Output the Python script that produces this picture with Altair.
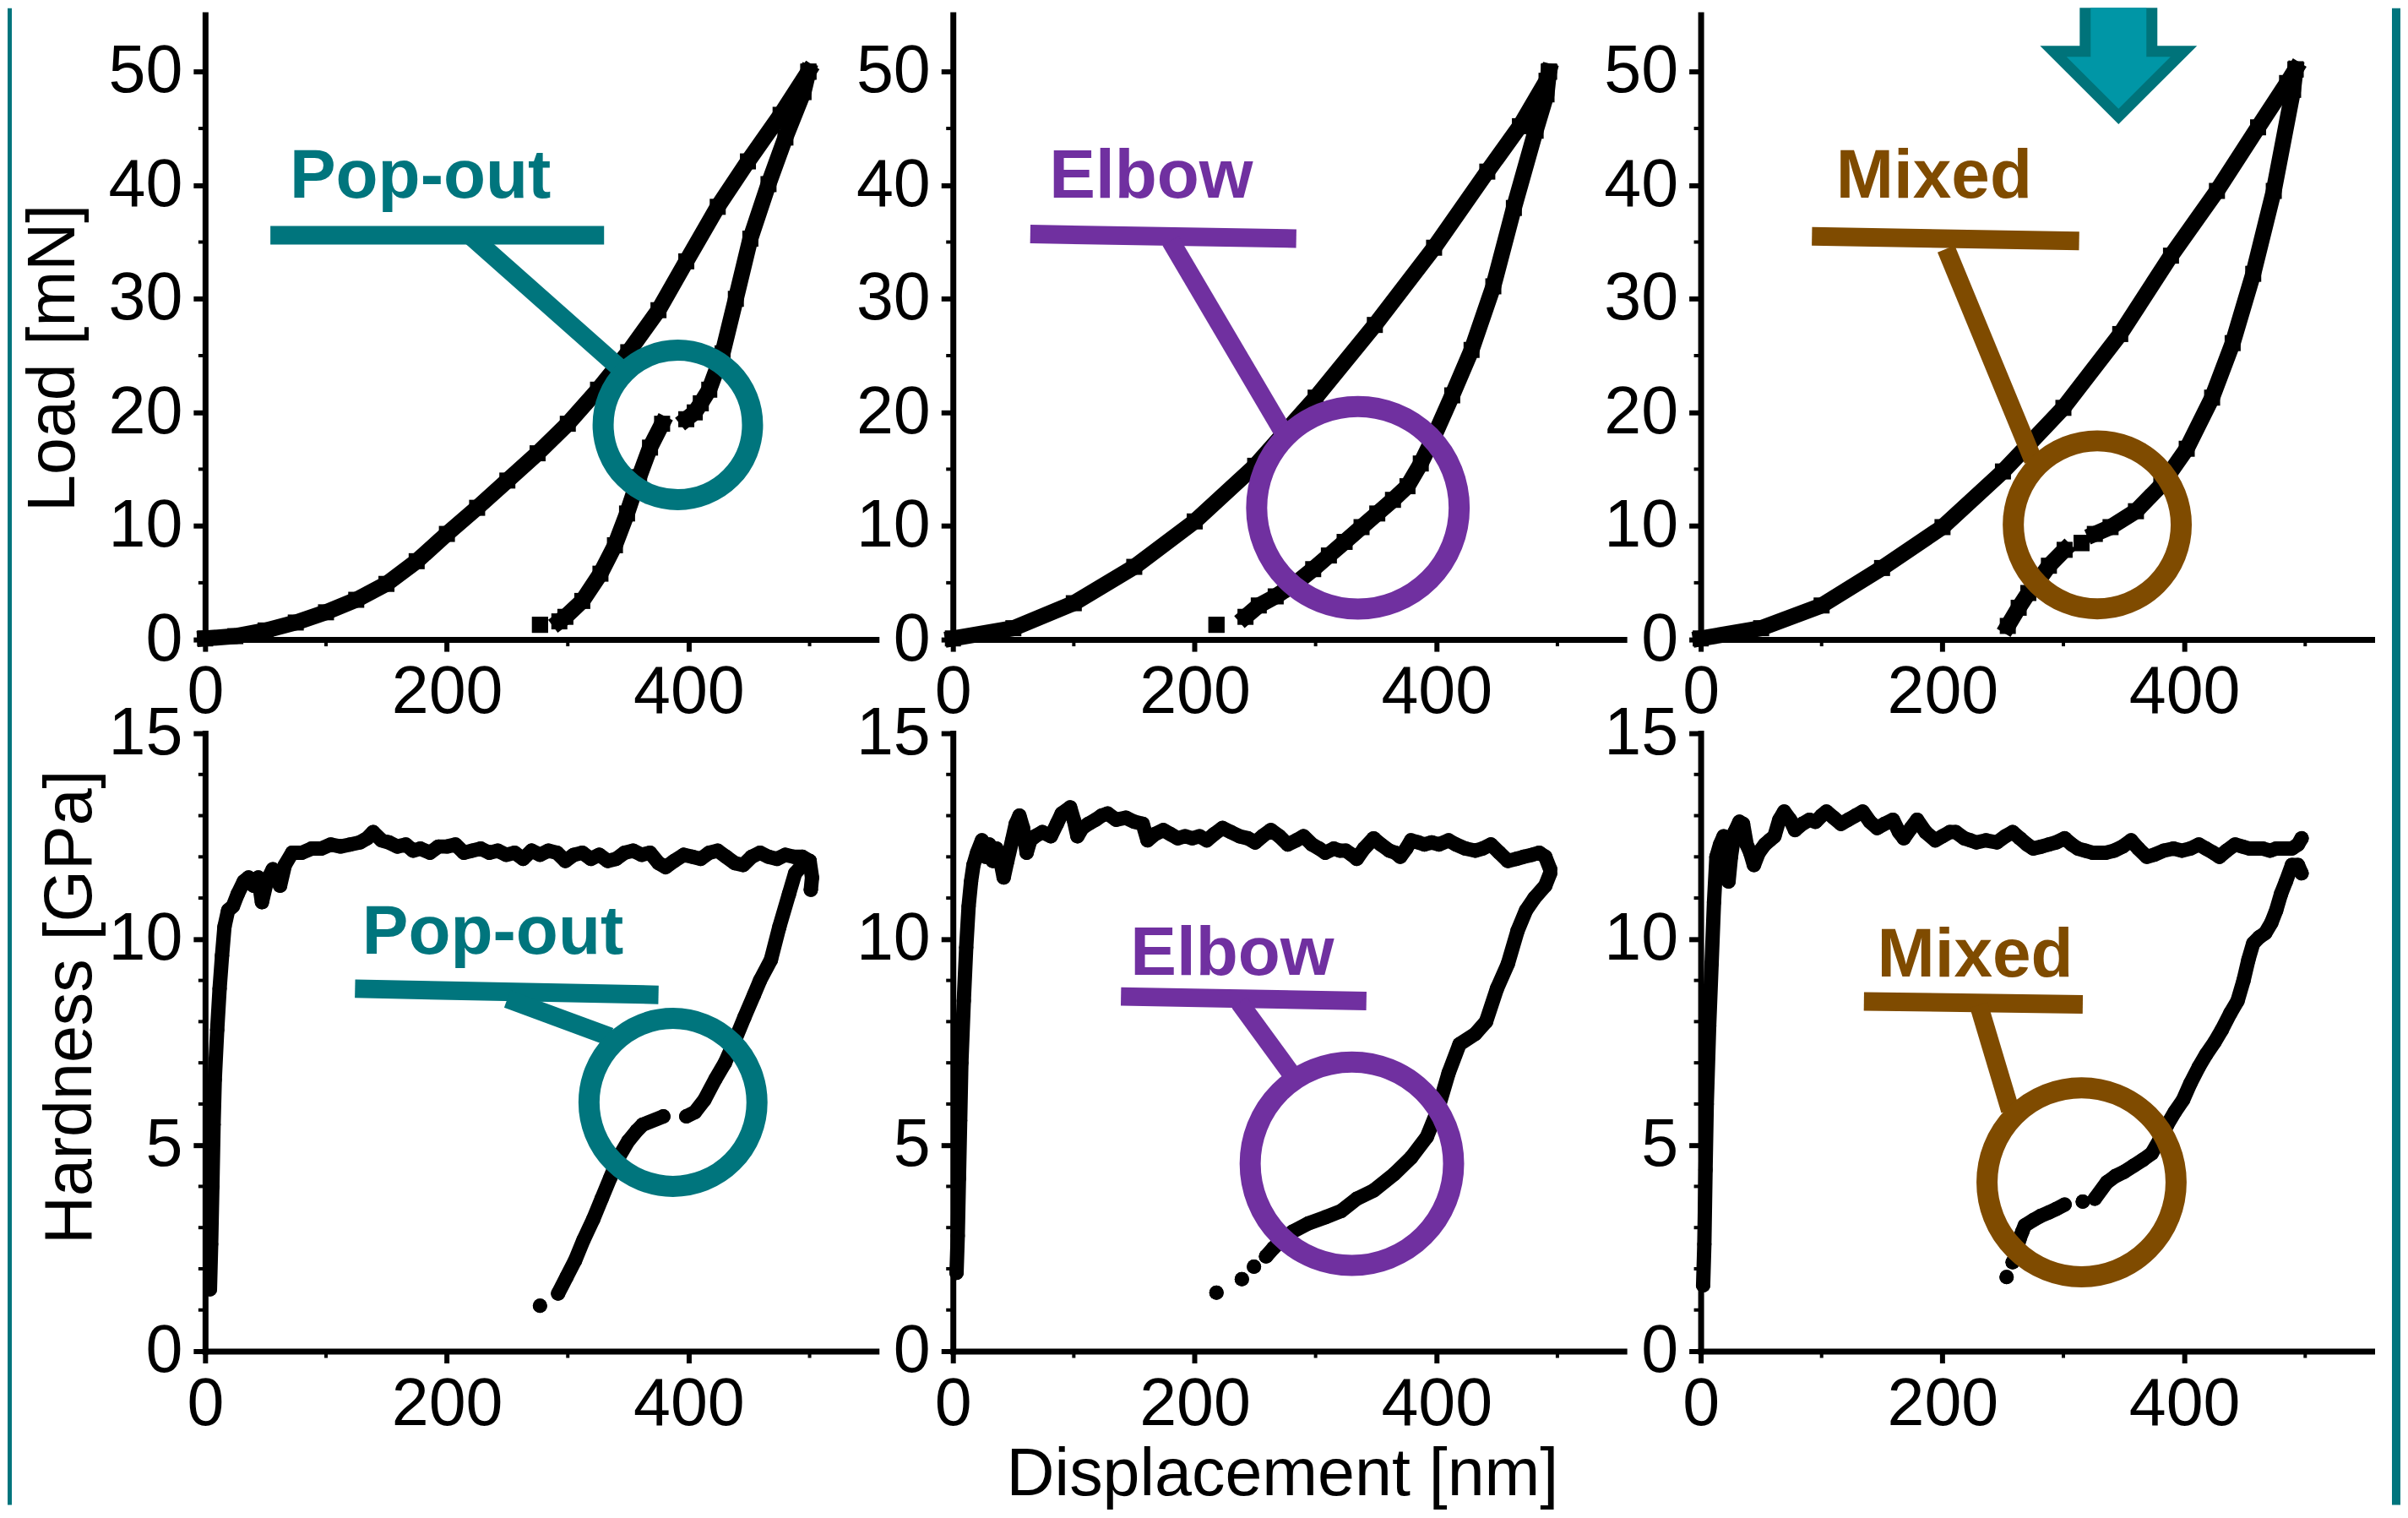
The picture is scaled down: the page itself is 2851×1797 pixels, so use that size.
import altair as alt
import pandas as pd

FONT = "Liberation Sans"
C_POP = "#00757D"
C_ELB = "#7030A0"
C_MIX = "#7F4B00"
FRAME = "#00757D"
ARROW_EDGE = "#00737A"
ARROW_FILL = "#0096A6"

# ---------------- data (displacement nm, load mN / hardness GPa) ----------------
TL_LOAD = [(0, 0.1), (25, 0.3), (50, 0.8), (75, 1.5), (100, 2.4), (125, 3.5), (150, 4.9), (175, 6.9),
           (200, 9.3), (225, 11.6), (250, 14.0), (275, 16.4), (300, 19.0), (325, 22.0), (350, 25.3),
           (375, 29.0), (398, 33.3), (424, 38.1), (449, 42.1), (476, 46.2), (499, 50.0)]
TL_UNLOAD_A = [(499, 50.0), (495, 48.2), (480, 44.2), (466, 40.1), (451, 35.3), (439, 30.0), (428, 25.2),
               (417, 22.0), (410, 20.8), (405, 20.0), (398, 19.4)]
TL_UNLOAD_B = [(378, 19.0), (368, 16.9), (359, 14.3), (349, 11.1), (339, 8.3), (327, 5.8), (312, 3.4),
               (298, 2.0), (293, 1.6)]
TL_END = [(277, 1.3)]

TM_LOAD = [(0, 0.1), (50, 1.0), (100, 3.2), (150, 6.4), (200, 10.4), (250, 15.3), (300, 21.3), (349, 27.7),
           (398, 34.5), (442, 41.2), (469, 45.2), (491, 49.2), (493, 50.0)]
TM_UNLOAD = [(493, 50.0), (491, 48.0), (482, 44.8), (464, 38.0), (447, 31.1), (429, 25.5), (413, 21.5),
             (398, 17.9), (387, 15.5), (376, 13.5), (364, 12.3), (351, 11.1), (338, 9.9), (324, 8.6),
             (311, 7.4), (298, 6.2), (284, 5.0), (267, 3.8), (253, 3.0), (242, 2.0)]
TM_END = [(218, 1.3)]

TR_LOAD = [(0, 0.1), (50, 1.0), (100, 3.0), (150, 6.3), (200, 9.9), (250, 14.8), (300, 20.4), (347, 26.9),
           (389, 33.8), (427, 39.5), (461, 45.1), (485, 49.0), (492, 50.2)]
TR_UNLOAD_A = [(492, 50.2), (490, 48.4), (474, 39.5), (457, 32.2), (440, 26.1), (423, 21.3), (402, 16.8),
               (381, 13.6), (360, 11.3), (339, 9.9), (326, 9.3)]
TR_MID = [(315, 8.5)]
TR_UNLOAD_B = [(301, 7.9), (288, 6.5), (280, 5.3), (271, 4.1), (263, 2.8), (254, 1.2)]

BL_LOAD = [(4, 1.5), (5, 2.6), (6, 4.0), (7, 5.5), (8, 6.6), (10, 7.8), (12, 8.8), (14, 9.6), (16, 10.3),
           (19, 10.7), (23, 10.8), (27, 11.1), (32, 11.4), (36, 11.5), (40, 11.3), (44, 11.5), (47, 10.9),
           (51, 11.4), (56, 11.7), (62, 11.3), (66, 11.8), (72, 12.1), (80, 12.1), (88, 12.2), (96, 12.2),
           (104, 12.3), (112, 12.25), (120, 12.3), (128, 12.35), (134, 12.45), (139, 12.6), (146, 12.4),
           (152, 12.35), (159, 12.25), (166, 12.3), (172, 12.15), (178, 12.2), (186, 12.1), (193, 12.25),
           (200, 12.25), (207, 12.3), (214, 12.1), (221, 12.15), (228, 12.2), (235, 12.1), (242, 12.15),
           (249, 12.05), (256, 12.1), (263, 11.95), (270, 12.15), (277, 12.05), (284, 12.15), (291, 12.1),
           (298, 11.9), (305, 12.05), (312, 12.1), (319, 11.95), (326, 12.05), (333, 11.9), (340, 11.95),
           (347, 12.1), (354, 12.15), (361, 12.05), (368, 12.1), (375, 11.85), (381, 11.75), (388, 11.9),
           (396, 12.05), (403, 12.0), (410, 11.95), (417, 12.1), (424, 12.15), (431, 12.0), (438, 11.85),
           (445, 11.8), (452, 12.0), (459, 12.1), (466, 12.0), (473, 11.95), (480, 12.05), (487, 12.0),
           (494, 12.0), (500, 11.9), (502, 11.5), (501, 11.2)]
BL_UNLOAD_A = [(500, 11.9), (494, 11.8), (488, 11.6), (483, 11.1), (475, 10.3), (468, 9.5), (459, 9.0),
               (454, 8.65), (446, 8.1), (439, 7.6), (430, 7.0), (422, 6.6), (413, 6.1), (405, 5.8), (398, 5.7)]
BL_UNLOAD_B = [(379, 5.7), (362, 5.5), (357, 5.35), (350, 5.1), (342, 4.7), (335, 4.2), (328, 3.7),
               (321, 3.2), (313, 2.7), (306, 2.2), (299, 1.8), (292, 1.4)]
BL_END = [(277, 1.1)]

BM_LOAD = [(3, 1.9), (4, 2.8), (5, 4.2), (6, 5.6), (7, 7.0), (9, 8.5), (11, 9.8), (13, 10.8), (15, 11.4),
           (17, 11.8), (20, 12.1), (24, 12.4), (27, 12.0), (30, 12.3), (33, 11.9), (36, 12.2), (40, 11.8),
           (42, 11.5), (45, 11.9), (49, 12.4), (52, 12.8), (55, 13.0), (58, 12.7), (61, 12.1), (64, 12.4),
           (68, 12.5), (74, 12.6), (81, 12.5), (86, 12.8), (90, 13.05), (97, 13.2), (100, 12.9), (103, 12.5),
           (107, 12.7), (112, 12.8), (118, 12.9), (123, 13.0), (128, 13.05), (135, 12.9), (143, 12.95),
           (150, 12.85), (157, 12.8), (161, 12.4), (167, 12.55), (174, 12.65), (180, 12.55), (186, 12.45),
           (192, 12.5), (198, 12.45), (204, 12.5), (210, 12.4), (216, 12.55), (223, 12.7), (230, 12.6),
           (237, 12.5), (244, 12.45), (250, 12.35), (256, 12.5), (263, 12.65), (270, 12.5), (277, 12.3),
           (284, 12.4), (290, 12.5), (297, 12.3), (303, 12.2), (308, 12.1), (315, 12.2), (320, 12.15),
           (325, 12.15), (330, 12.05), (334, 11.95), (340, 12.2), (348, 12.45), (354, 12.3), (361, 12.15),
           (366, 12.1), (370, 12.0), (375, 12.2), (379, 12.4), (385, 12.35), (390, 12.3), (396, 12.35),
           (402, 12.3), (410, 12.4), (416, 12.3), (424, 12.2), (432, 12.15), (438, 12.2), (445, 12.3),
           (452, 12.1), (459, 11.9), (466, 11.95), (472, 12.0), (479, 12.05), (485, 12.1), (490, 12.0),
           (494, 11.7)]
BM_UNLOAD = [(494, 11.6), (490, 11.3), (481, 11.0), (474, 10.7), (467, 10.2), (459, 9.4), (450, 8.8),
             (441, 8.0), (432, 7.7), (419, 7.45), (410, 6.75), (401, 5.85), (392, 5.2), (379, 4.7),
             (365, 4.3), (348, 3.9), (334, 3.7), (321, 3.4), (308, 3.25), (294, 3.1), (281, 2.9),
             (272, 2.7), (265, 2.5), (259, 2.3)]
BM_DOTS = [(249, 2.05), (239, 1.75), (218, 1.42)]

BR_LOAD = [(2, 1.6), (3, 2.6), (4, 4.4), (5, 6.0), (7, 7.9), (9, 9.4), (11, 10.9), (13, 12.0), (16, 12.3),
           (19, 12.5), (21, 11.9), (23, 11.4), (25, 12.0), (28, 12.6), (32, 12.85), (35, 12.8), (38, 12.3),
           (41, 12.1), (44, 11.8), (48, 12.1), (53, 12.3), (57, 12.4), (61, 12.5), (65, 12.9), (69, 13.1),
           (74, 12.9), (78, 12.65), (84, 12.8), (90, 12.9), (95, 12.85), (100, 13.0), (104, 13.1),
           (110, 12.95), (116, 12.8), (122, 12.9), (128, 13.0), (134, 13.1), (140, 12.85), (146, 12.7),
           (152, 12.8), (159, 12.9), (164, 12.6), (168, 12.45), (174, 12.7), (179, 12.9), (186, 12.6),
           (194, 12.4), (200, 12.5), (206, 12.6), (211, 12.6), (218, 12.45), (223, 12.4), (228, 12.35),
           (236, 12.4), (245, 12.35), (252, 12.5), (258, 12.6), (264, 12.45), (270, 12.3), (275, 12.2),
           (282, 12.25), (288, 12.3), (294, 12.35), (301, 12.45), (307, 12.3), (312, 12.2), (318, 12.15),
           (324, 12.1), (330, 12.1), (335, 12.1), (342, 12.15), (349, 12.25), (356, 12.4), (362, 12.2),
           (369, 12.0), (375, 12.05), (383, 12.15), (391, 12.2), (398, 12.15), (405, 12.2), (412, 12.3),
           (418, 12.2), (424, 12.1), (429, 12.0), (435, 12.15), (442, 12.3), (448, 12.25), (454, 12.2),
           (459, 12.2), (465, 12.2), (471, 12.15), (476, 12.2), (482, 12.2), (489, 12.2), (494, 12.3),
           (497, 12.45)]
BR_UNLOAD_A = [(497, 11.6), (494, 11.8), (489, 11.8), (484, 11.4), (480, 11.1), (476, 10.7), (472, 10.4),
               (467, 10.15), (462, 10.05), (457, 9.9), (453, 9.5), (449, 9.0), (444, 8.5), (438, 8.2),
               (431, 7.8), (425, 7.5), (418, 7.2), (412, 6.9), (405, 6.5), (399, 6.1), (392, 5.8),
               (386, 5.5), (379, 5.1), (373, 4.8), (366, 4.65), (358, 4.5), (350, 4.35), (343, 4.25),
               (336, 4.1), (326, 3.7)]
BR_MID = [(316, 3.63)]
BR_UNLOAD_B = [(301, 3.56), (294, 3.45), (288, 3.37), (281, 3.28), (275, 3.18), (268, 3.05), (266, 2.9),
               (264, 2.75), (262, 2.54)]
BR_DOTS = [(258, 2.16), (253, 1.8)]

# ---------------- axes ticks ----------------
X_DOMAIN = [0, 555]
X_MAJOR = [0, 200, 400]
X_MINOR = [100, 300, 500]
LOAD_DOMAIN = [0, 55]
LOAD_MAJOR = [0, 10, 20, 30, 40, 50]
LOAD_MINOR = [5, 15, 25, 35, 45]
HARD_DOMAIN = [0, 15]
HARD_MAJOR = [0, 5, 10, 15]
HARD_MINOR = [1, 2, 3, 4, 6, 7, 8, 9, 11, 12, 13, 14]

# ---------------- annotations (data coordinates of each panel) ----------------
ANN_LABEL = ["Pop-out", "Elbow", "Mixed", "Pop-out", "Elbow", "Mixed"]
ANN_COLOR = [C_POP, C_ELB, C_MIX, C_POP, C_ELB, C_MIX]
ANN_TEXT_X = [178, 164, 193, 238, 231, 227]
ANN_TEXT_Y = [38.9, 38.9, 38.9, 9.64, 9.13, 9.10]
BAR_X1 = [54, 64, 92, 124, 139, 135]
BAR_Y1 = [35.6, 35.7, 35.5, 8.80, 8.61, 8.49]
BAR_X2 = [330, 284, 313, 375, 342, 316]
BAR_Y2 = [35.6, 35.3, 35.1, 8.65, 8.50, 8.42]
LEAD_X1 = [220, 180, 203, 250, 237, 230]
LEAD_Y1 = [35.5, 35.1, 34.4, 8.55, 8.46, 8.40]
LEAD_X2 = [342, 273, 275, 335, 279, 256]
LEAD_Y2 = [24.0, 18.3, 15.8, 7.63, 6.77, 5.85]
RING_X = [391, 335, 328, 387, 330, 315]
RING_Y = [18.9, 11.6, 10.1, 6.04, 4.55, 4.10]
RING_DIAM = [177, 240, 199, 199, 241, 224]   # px, centre line of ring

ARROW_AT = [(345.6, 50.5)]
ARROW_OUTER = "M -0.46 -0.69 L 0.46 -0.69 L 0.46 -0.24 L 0.93 -0.24 L 0 0.69 L -0.93 -0.24 L -0.46 -0.24 Z"
ARROW_INNER = "M -0.33 -0.69 L 0.33 -0.69 L 0.33 -0.11 L 0.616 -0.11 L 0 0.506 L -0.616 -0.11 L -0.33 -0.11 Z"

# ---------------- layout / style ----------------
PANEL_W = 795
TOP_H = 740
BOT_H = 732
COL_GAP = 91
ROW_GAP = 111
TICK_FS = 79
TOP_LINE_W = 19
TOP_MARK = 361
BOT_LINE_W = 17
BOT_MARK = 289
ANN_W = 22
RING_W = 25


def curve_frame(segments):
    rows = []
    k = 0
    for s, seg in enumerate(segments):
        for x, y in seg:
            rows.append({"x": x, "y": y, "s": s, "k": k})
            k += 1
    return pd.DataFrame(rows)


def axis(values, pad, **extra):
    kw = dict(values=values, grid=False, domainColor="black", domainWidth=7, domainCap="square",
              tickColor="black", tickWidth=6, tickSize=14, labelFont=FONT, labelFontSize=TICK_FS,
              labelColor="black", labelFlush=False, labelOverlap=False, labelPadding=pad,
              titleFont=FONT, titleFontSize=TICK_FS, titleFontWeight="normal", titleColor="black")
    kw.update(extra)
    if "title" not in kw:
        kw["title"] = None
    return alt.Axis(**kw)


def panel(i, segments, marker, msize, lw, ydom, h, ymajor, yminor, yextra=None, xextra=None, extra=None):
    xs = alt.Scale(domain=X_DOMAIN, nice=False, zero=False)
    ys = alt.Scale(domain=ydom, nice=False, zero=False)
    X = alt.X("x:Q", scale=xs, axis=axis(X_MAJOR, 10 if h == TOP_H else 11, **(xextra or {})))
    Y = alt.Y("y:Q", scale=ys, axis=axis(ymajor, 13, **(yextra or {})))

    df = curve_frame(segments)
    cap = "square" if marker == "square" else "round"
    line = alt.Chart(df).mark_line(color="black", strokeWidth=lw, strokeJoin="round", strokeCap=cap).encode(
        x=X, y=Y, detail="s:N", order="k:Q")
    pts = alt.Chart(df).mark_point(shape=marker, filled=True, size=msize, opacity=1, color="black").encode(x=X, y=Y)

    ymin = alt.Chart(pd.DataFrame({"y": yminor})).mark_rule(color="black", strokeWidth=4).encode(
        y=Y, x=alt.value(-8), x2=alt.value(0))
    xmin = alt.Chart(pd.DataFrame({"x": X_MINOR})).mark_rule(color="black", strokeWidth=4).encode(
        x=X, y=alt.value(h), y2=alt.value(h + 8))

    c = ANN_COLOR[i]
    txt = alt.Chart(pd.DataFrame({"x": [ANN_TEXT_X[i]], "y": [ANN_TEXT_Y[i]], "t": [ANN_LABEL[i]]})).mark_text(
        font=FONT, fontSize=82, fontWeight="bold", color=c, align="center", baseline="alphabetic").encode(
        x=X, y=Y, text="t:N")
    bar = alt.Chart(pd.DataFrame({"x": [BAR_X1[i]], "y": [BAR_Y1[i]], "x2": [BAR_X2[i]], "y2": [BAR_Y2[i]]})).mark_rule(
        color=c, strokeWidth=ANN_W).encode(x=X, y=Y, x2=alt.X2("x2"), y2=alt.Y2("y2"))
    lead = alt.Chart(pd.DataFrame({"x": [LEAD_X1[i]], "y": [LEAD_Y1[i]], "x2": [LEAD_X2[i]], "y2": [LEAD_Y2[i]]})).mark_rule(
        color=c, strokeWidth=ANN_W).encode(x=X, y=Y, x2=alt.X2("x2"), y2=alt.Y2("y2"))
    ring = alt.Chart(pd.DataFrame({"x": [RING_X[i]], "y": [RING_Y[i]]})).mark_point(
        shape="circle", filled=False, strokeWidth=RING_W, size=RING_DIAM[i] ** 2, opacity=1, color=c).encode(x=X, y=Y)

    layers = [ymin, xmin, line, pts, bar, lead, ring, txt]
    if extra:
        layers += [f(X, Y) for f in extra]
    return alt.layer(*layers).properties(width=PANEL_W, height=h)


def left_frame(X, Y):
    return alt.Chart(pd.DataFrame({"v": [0]})).mark_rect(color=FRAME).encode(
        x=alt.value(-234), x2=alt.value(-229), y=alt.value(-8), y2=alt.value(1765))


def right_frame(X, Y):
    return alt.Chart(pd.DataFrame({"v": [0]})).mark_rect(color=FRAME).encode(
        x=alt.value(819), x2=alt.value(829), y=alt.value(-8), y2=alt.value(1765))


def arrow(X, Y):
    d = pd.DataFrame({"x": [p[0] for p in ARROW_AT], "y": [p[1] for p in ARROW_AT]})
    outer = alt.Chart(d).mark_point(shape=ARROW_OUTER, size=40000, filled=True, opacity=1,
                                    color=ARROW_EDGE, strokeWidth=0).encode(x=X, y=Y)
    inner = alt.Chart(d).mark_point(shape=ARROW_INNER, size=40000, filled=True, opacity=1,
                                    color=ARROW_FILL, strokeWidth=0).encode(x=X, y=Y)
    return alt.layer(outer, inner)


tl = panel(0, [TL_LOAD, TL_UNLOAD_A, TL_UNLOAD_B, TL_END], "square", TOP_MARK, TOP_LINE_W, LOAD_DOMAIN, TOP_H,
           LOAD_MAJOR, LOAD_MINOR,
           yextra=dict(title="Load [mN]", titleX=-138, titleY=406, titleAngle=270,
                       titleBaseline="bottom", titleAlign="center"),
           extra=[left_frame])
tm = panel(1, [TM_LOAD, TM_UNLOAD, TM_END], "square", TOP_MARK, TOP_LINE_W, LOAD_DOMAIN, TOP_H,
           LOAD_MAJOR, LOAD_MINOR)
tr = panel(2, [TR_LOAD, TR_UNLOAD_A, TR_MID, TR_UNLOAD_B], "square", TOP_MARK, TOP_LINE_W, LOAD_DOMAIN, TOP_H,
           LOAD_MAJOR, LOAD_MINOR, extra=[arrow, right_frame])
bl = panel(3, [BL_LOAD, BL_UNLOAD_A, BL_UNLOAD_B, BL_END], "circle", BOT_MARK, BOT_LINE_W, HARD_DOMAIN, BOT_H,
           HARD_MAJOR, HARD_MINOR,
           yextra=dict(title="Hardness [GPa]", titleX=-118, titleY=324, titleAngle=270,
                       titleBaseline="bottom", titleAlign="center"))
bm = panel(4, [BM_LOAD, BM_UNLOAD] + [[p] for p in BM_DOTS], "circle", BOT_MARK, BOT_LINE_W, HARD_DOMAIN, BOT_H,
           HARD_MAJOR, HARD_MINOR,
           xextra=dict(title="Displacement [nm]", titleX=390, titleY=108, titleBaseline="top",
                       titleAlign="center"))
br = panel(5, [BR_LOAD, BR_UNLOAD_A, BR_MID, BR_UNLOAD_B] + [[p] for p in BR_DOTS], "circle", BOT_MARK,
           BOT_LINE_W, HARD_DOMAIN, BOT_H, HARD_MAJOR, HARD_MINOR)

chart = alt.concat(tl, tm, tr, bl, bm, br, columns=3, bounds="flush",
                   spacing={"row": ROW_GAP, "column": COL_GAP}).properties(
    padding={"left": 0, "top": 0, "right": 0, "bottom": 0}, background="white"
).configure_view(stroke="transparent")

chart.save("out.html", embed_options={"renderer": "svg", "actions": False})
